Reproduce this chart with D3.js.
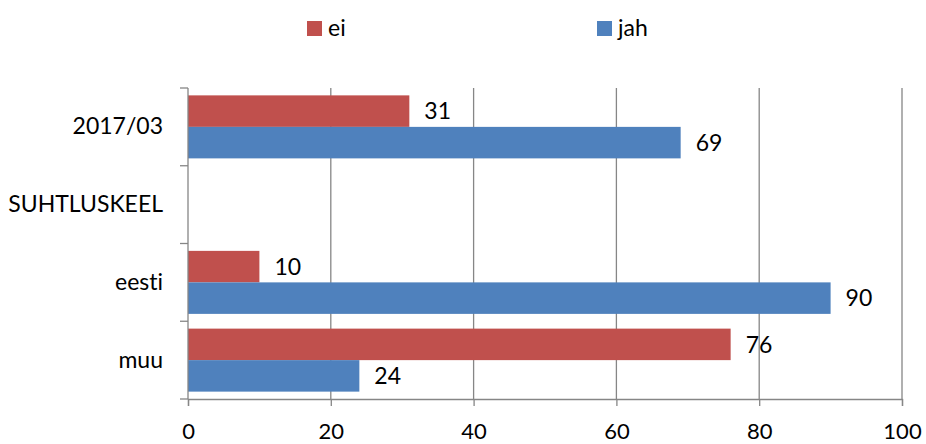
<!DOCTYPE html>
<html><head><meta charset="utf-8">
<script src="https://cdn.jsdelivr.net/npm/d3@7"></script>
<style>body{margin:0;background:#fff}svg{display:block}text{font-family:Lato,"Liberation Sans",sans-serif;fill:#000;font-variant-ligatures:none;font-feature-settings:"liga" 0}</style>
</head><body>
<svg id="c" width="926" height="444"></svg>
<script>
const categories = ["2017/03", "SUHTLUSKEEL", "eesti", "muu"];
const seriesNames = ["ei", "jah"];
const eiValues = [31, null, 10, 76];
const jahValues = [69, null, 90, 24];
const xTicks = [0, 20, 40, 60, 80, 100];
const colors = ["#C0504D", "#4F81BD"];

const svg = d3.select("#c");
const gridColor = "#868686";
const x = d3.scaleLinear().domain([0, 100]).range([188, 902]);
const y = d3.scaleBand().domain(categories).range([88, 399]).padding(0);
const y1 = d3.scaleBand().domain(seriesNames).range([0, y.bandwidth()]).paddingInner(0).paddingOuter(0.234);
const seriesValues = [eiValues, jahValues];

// gridlines
svg.append("g").selectAll("line").data(xTicks.slice(1)).join("line")
  .attr("x1", d => x(d)).attr("x2", d => x(d))
  .attr("y1", 88).attr("y2", 399)
  .attr("stroke", gridColor).attr("stroke-width", 1.3);

// bars
const rows = [];
categories.forEach((c, i) => seriesNames.forEach((s, j) => {
  if (seriesValues[j][i] != null) rows.push({c, s, v: seriesValues[j][i], color: colors[j]});
}));
svg.append("g").selectAll("rect").data(rows).join("rect")
  .attr("x", x(0)).attr("y", d => y(d.c) + y1(d.s))
  .attr("width", d => x(d.v) - x(0)).attr("height", y1.bandwidth())
  .attr("fill", d => d.color);

// value labels
svg.append("g").selectAll("text").data(rows).join("text")
  .attr("x", d => x(d.v) + 15).attr("y", d => y(d.c) + y1(d.s) + y1.bandwidth() / 2)
  .attr("dy", "0.36em").attr("font-size", 23).text(d => d.v);

// x axis
const xAxis = svg.append("g").attr("transform", "translate(0,399)")
  .call(d3.axisBottom(x).tickValues(xTicks).tickSize(7).tickPadding(17).tickFormat(d3.format("d")));
xAxis.select(".domain").attr("stroke", gridColor).attr("stroke-width", 1.3);
xAxis.selectAll(".tick line").attr("stroke", gridColor).attr("stroke-width", 1.3);
xAxis.selectAll("text").attr("font-size", 22).attr("font-family", null).attr("fill", "#000");

// y axis
const yAxis = svg.append("g").attr("transform", "translate(188,0)")
  .call(d3.axisLeft(y).tickSize(0).tickPadding(25));
yAxis.select(".domain").remove();
yAxis.selectAll("text").attr("font-size", 23).attr("font-family", null).attr("fill", "#000");
svg.append("line").attr("x1", 188).attr("x2", 188).attr("y1", 88).attr("y2", 399)
  .attr("stroke", gridColor).attr("stroke-width", 1.3);
const bounds = categories.map(c => y(c)).concat([y.range()[1]]);
svg.append("g").selectAll("line").data(bounds).join("line")
  .attr("x1", 180).attr("x2", 188).attr("y1", d => d).attr("y2", d => d)
  .attr("stroke", gridColor).attr("stroke-width", 1.3);

// legend
const legendX = [307, 597];
const lg = svg.append("g").selectAll("g").data(seriesNames).join("g")
  .attr("transform", (d, i) => `translate(${legendX[i]},21)`);
lg.append("rect").attr("width", 15).attr("height", 15).attr("fill", (d, i) => colors[i]);
lg.append("text").attr("x", 21).attr("y", 15).attr("font-size", 23).text(d => d);
</script>
</body></html>
